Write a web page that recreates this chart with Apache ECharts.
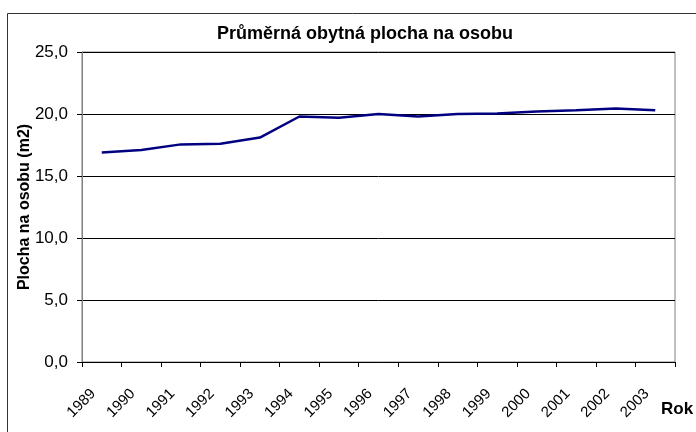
<!DOCTYPE html>
<html>
<head>
<meta charset="utf-8">
<script src="https://cdn.jsdelivr.net/npm/echarts@6/dist/echarts.min.js"></script>
<style>
    html,body{margin:0;padding:0;background:#fff;}
    #chart{width:696px;height:432px;}
</style>
</head>
<body>
<div id="chart"></div>
<script>
    // roky
    var years = ['1989','1990','1991','1992','1993','1994','1995','1996','1997','1998','1999','2000','2001','2002','2003'];
    // prumerna obytna plocha (m2)
    var plocha = [16.9, 17.1, 17.55, 17.6, 18.1, 19.8, 19.7, 20.0, 19.8, 20.0, 20.05, 20.2, 20.3, 20.45, 20.3];
    var yTicks = [0, 5, 10, 15, 20, 25];

    var chart = echarts.init(document.getElementById('chart'));
    chart.setOption({
        animation: false,
        textStyle: { fontFamily: 'Arial, "Liberation Sans", sans-serif' },
        grid: {
            left: 82, right: 21, top: 52, bottom: 70,
            show: true, borderColor: '#808080', borderWidth: 1
        },
        graphic: [
            {
                type: 'rect', silent: true, z: -1,
                shape: { x: 7.5, y: 13.5, width: 720, height: 450 },
                style: { fill: 'none', stroke: '#333', lineWidth: 1 }
            },
            {
                type: 'text', x: 365, y: 34,
                style: {
                    text: 'Průměrná obytná plocha na osobu', textAlign: 'center', textVerticalAlign: 'middle',
                    font: 'bold 18px Arial, "Liberation Sans", sans-serif', fill: '#000'
                }
            },
            {
                type: 'text', x: 661, y: 409,
                style: {
                    text: 'Rok', textVerticalAlign: 'middle',
                    font: 'bold 17px Arial, "Liberation Sans", sans-serif', fill: '#000'
                }
            }
        ],
        xAxis: {
            type: 'category',
            data: years,
            boundaryGap: true,
            axisLine: { lineStyle: { color: '#000', width: 1 } },
            axisTick: { show: true, length: 5, alignWithLabel: false, lineStyle: { color: '#000' } },
            axisLabel: { rotate: 45, margin: 21, padding: [0, 12, 0, 0], fontSize: 15, color: '#000', interval: 0 }
        },
        yAxis: {
            type: 'value',
            min: yTicks[0], max: yTicks[yTicks.length - 1], interval: 5,
            name: 'Plocha na osobu (m2)',
            nameLocation: 'middle',
            nameGap: 49,
            nameMoveOverlap: false,
            nameTextStyle: { fontSize: 16, fontWeight: 'bold', color: '#000' },
            axisLine: { show: true, lineStyle: { color: '#808080' } },
            axisTick: { show: true, length: 5, lineStyle: { color: '#000' } },
            axisLabel: {
                margin: 14, fontSize: 17, color: '#000',
                formatter: function (v) { return v.toFixed(1).replace('.', ','); }
            },
            splitLine: { lineStyle: { color: '#000', width: 1 } }
        },
        series: [{
            type: 'line',
            data: plocha,
            symbol: 'none',
            lineStyle: { color: '#000080', width: 2.5 }
        }]
    });
</script>
</body>
</html>
